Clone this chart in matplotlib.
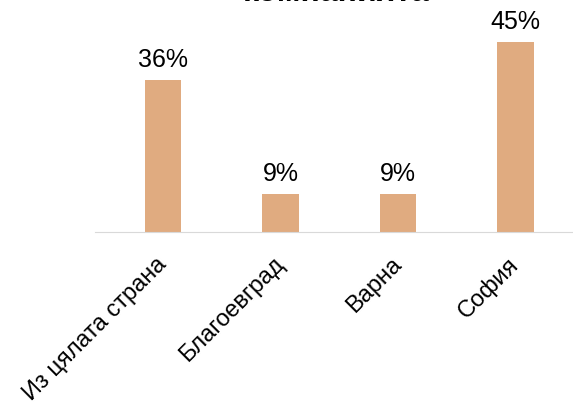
import numpy as np
import matplotlib.pyplot as plt

plt.rcParams['font.family'] = ['Liberation Sans', 'DejaVu Sans']

# data
cities = ['Из цялата страна', 'Благоевград', 'Варна', 'София']
shares = [36.4, 9.1, 9.1, 45.5]
labels = ['36%', '9%', '9%', '45%']

fig = plt.figure(figsize=(5.73, 4.05), dpi=100)
ax = fig.add_axes([95/573, 1 - 232/405, 478/573, 232/405])

x = np.arange(len(cities))
bars = ax.bar(x, shares, width=0.31, color='#E0AB80')

for b, lab in zip(bars, labels):
    ax.annotate(lab, (b.get_x() + b.get_width()/2, b.get_height()),
                xytext=(0, 6), textcoords='offset points',
                ha='center', va='bottom', fontsize=18)

ax.set_xlim(-0.58, 3.49)
ax.set_ylim(0, 55.7)
ax.set_xticks(x)
ax.set_xticklabels(cities, rotation=45, ha='right', va='center',
                   rotation_mode='anchor', fontsize=17)
ax.tick_params(axis='x', length=0, pad=21)
ax.set_yticks([])
for s in ['top', 'right', 'left']:
    ax.spines[s].set_visible(False)
ax.spines['bottom'].set_color('#D9D9D9')

# title is cut off at the top of the picture
fig.text(336/573, 1 - 1/405, 'компанията', ha='center', va='baseline',
         fontsize=23, fontweight='bold')

fig.savefig('out.png', dpi=100)
